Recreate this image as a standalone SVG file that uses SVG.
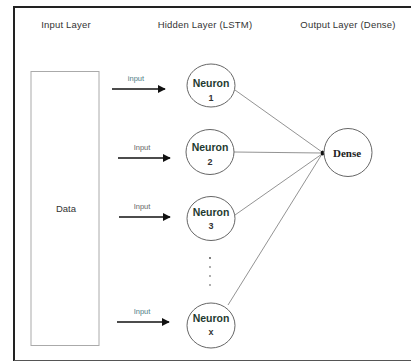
<svg xmlns="http://www.w3.org/2000/svg" width="411" height="362" viewBox="0 0 411 362">
<defs>
<marker id="ah" viewBox="0 0 10 10" refX="9" refY="5" markerWidth="5" markerHeight="5" orient="auto"><path d="M0,0 L10,5 L0,10 Z" fill="#111"/></marker>
<style>
.hdr{font-family:"Liberation Sans",Arial,sans-serif;font-size:9.5px;fill:#333;text-anchor:middle;letter-spacing:0.2px}
.inp{font-family:"Liberation Sans",Arial,sans-serif;font-size:7.5px;fill:#666;text-anchor:middle}
.teal{fill:#4f7e86}
.neu{font-family:"Liberation Sans",Arial,sans-serif;font-size:10.5px;font-weight:bold;fill:#1f3a30;text-anchor:middle}
.num{font-family:"Liberation Sans",Arial,sans-serif;font-size:9px;font-weight:bold;fill:#333;text-anchor:middle}
.circ{fill:#fff;stroke:#666;stroke-width:1}
.conn{stroke:#777;stroke-width:0.8;fill:none}
.arr{stroke:#111;stroke-width:1.6;fill:none}
</style>
</defs>
<rect x="0" y="0" width="411" height="362" fill="#fff"/>
<path d="M14,361 L14,7 L411,7" fill="none" stroke="#222" stroke-width="2"/>
<line x1="14" y1="360.5" x2="411" y2="360.5" stroke="#555" stroke-width="1.2"/>
<text class="hdr" x="66" y="28">Input Layer</text>
<text class="hdr" x="205" y="28">Hidden Layer (LSTM)</text>
<text class="hdr" x="348" y="28">Output Layer (Dense)</text>
<g id="data">
<rect x="31" y="71.5" width="68" height="274" fill="#fff" stroke="#aaa" stroke-width="1"/>
<text x="66" y="212" font-family="Liberation Sans,Arial,sans-serif" font-size="9.5" fill="#333" text-anchor="middle">Data</text>
</g>
<g id="connectors">
<line class="arr" x1="112" y1="89" x2="165" y2="89" marker-end="url(#ah)"/>
<text class="inp teal" x="136" y="81">input</text>
<line class="arr" x1="118" y1="158" x2="170" y2="158" marker-end="url(#ah)"/>
<text class="inp" x="142" y="150">Input</text>
<line class="arr" x1="119" y1="217" x2="170" y2="217" marker-end="url(#ah)"/>
<text class="inp" x="142" y="209">Input</text>
<line class="arr" x1="117" y1="322" x2="169" y2="322" marker-end="url(#ah)"/>
<text class="inp teal" x="142" y="314">Input</text>
<line class="conn" x1="235" y1="90" x2="322" y2="152"/>
<line class="conn" x1="234" y1="152" x2="322" y2="153"/>
<line class="conn" x1="235" y1="215" x2="322" y2="154"/>
<line class="conn" x1="228" y1="305" x2="322" y2="154"/>
<ellipse cx="322.5" cy="153" rx="1.8" ry="2.5" fill="#111"/>
</g>
<g id="neuron1"><ellipse class="circ" cx="211" cy="85.5" rx="24" ry="21.5"/><text class="neu" x="211" y="87">Neuron</text><text class="num" x="211" y="101">1</text></g>
<g id="neuron2"><ellipse class="circ" cx="210" cy="152" rx="24" ry="22.5"/><text class="neu" x="210" y="151">Neuron</text><text class="num" x="210" y="165">2</text></g>
<g id="neuron3"><ellipse class="circ" cx="211" cy="218.5" rx="24" ry="22"/><text class="neu" x="211" y="216">Neuron</text><text class="num" x="211" y="229">3</text></g>
<g id="dots" fill="#888"><circle cx="210" cy="258" r="0.9" fill="#444"/><circle cx="210" cy="267" r="0.9"/><circle cx="210" cy="276" r="0.9"/><circle cx="210" cy="285" r="0.9"/></g>
<g id="neuronx"><ellipse class="circ" cx="211" cy="325.5" rx="24" ry="22.5"/><text class="neu" x="211" y="322">Neuron</text><text class="num" x="211" y="335">x</text></g>
<g id="dense"><circle class="circ" cx="348" cy="152.5" r="24"/><text x="347" y="156.5" font-family="Liberation Serif,serif" font-size="11" font-weight="bold" fill="#222" text-anchor="middle">Dense</text></g>
</svg>
